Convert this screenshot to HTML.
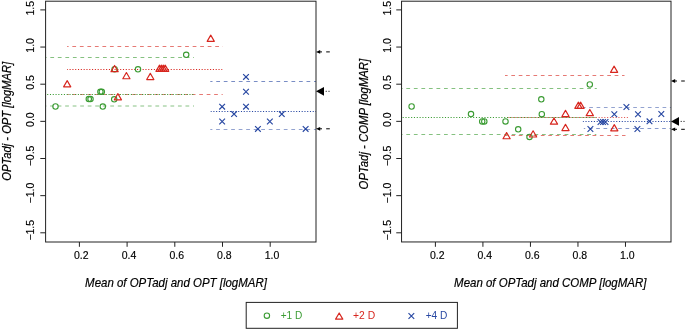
<!DOCTYPE html>
<html><head><meta charset="utf-8"><style>
html,body{margin:0;padding:0;background:#fff;width:685px;height:329px;overflow:hidden}
svg{display:block;will-change:transform}
.tk{font-family:"Liberation Sans",sans-serif;font-size:10.5px;fill:#000;stroke:#000;stroke-width:0.15px}
.ti{font-family:"Liberation Sans",sans-serif;font-size:12.4px;font-style:italic;fill:#000;stroke:#000;stroke-width:0.2px}
.lg{font-family:"Liberation Sans",sans-serif;font-size:10px}
</style></head><body>
<svg width="685" height="329" viewBox="0 0 685 329">
<rect width="685" height="329" fill="#fff"/>
<line x1="40.30" y1="9.90" x2="45.60" y2="9.90" stroke="#222" stroke-width="1"/>
<text x="0" y="0" transform="translate(34.00,8.20) rotate(-90)" text-anchor="middle" class="tk">1.5</text>
<line x1="40.30" y1="47.05" x2="45.60" y2="47.05" stroke="#222" stroke-width="1"/>
<text x="0" y="0" transform="translate(34.00,45.35) rotate(-90)" text-anchor="middle" class="tk">1.0</text>
<line x1="40.30" y1="84.20" x2="45.60" y2="84.20" stroke="#222" stroke-width="1"/>
<text x="0" y="0" transform="translate(34.00,82.50) rotate(-90)" text-anchor="middle" class="tk">0.5</text>
<line x1="40.30" y1="121.35" x2="45.60" y2="121.35" stroke="#222" stroke-width="1"/>
<text x="0" y="0" transform="translate(34.00,119.65) rotate(-90)" text-anchor="middle" class="tk">0.0</text>
<line x1="40.30" y1="158.50" x2="45.60" y2="158.50" stroke="#222" stroke-width="1"/>
<text x="0" y="0" transform="translate(34.00,155.95) rotate(-90)" text-anchor="middle" class="tk">−0.5</text>
<line x1="40.30" y1="195.65" x2="45.60" y2="195.65" stroke="#222" stroke-width="1"/>
<text x="0" y="0" transform="translate(34.00,193.10) rotate(-90)" text-anchor="middle" class="tk">−1.0</text>
<line x1="40.30" y1="232.80" x2="45.60" y2="232.80" stroke="#222" stroke-width="1"/>
<text x="0" y="0" transform="translate(34.00,230.25) rotate(-90)" text-anchor="middle" class="tk">−1.5</text>
<line x1="79.40" y1="242.00" x2="79.40" y2="246.80" stroke="#222" stroke-width="1"/>
<text x="81.30" y="258.9" text-anchor="middle" class="tk">0.2</text>
<line x1="127.10" y1="242.00" x2="127.10" y2="246.80" stroke="#222" stroke-width="1"/>
<text x="129.00" y="258.9" text-anchor="middle" class="tk">0.4</text>
<line x1="174.80" y1="242.00" x2="174.80" y2="246.80" stroke="#222" stroke-width="1"/>
<text x="176.70" y="258.9" text-anchor="middle" class="tk">0.6</text>
<line x1="222.50" y1="242.00" x2="222.50" y2="246.80" stroke="#222" stroke-width="1"/>
<text x="224.40" y="258.9" text-anchor="middle" class="tk">0.8</text>
<line x1="270.20" y1="242.00" x2="270.20" y2="246.80" stroke="#222" stroke-width="1"/>
<text x="272.10" y="258.9" text-anchor="middle" class="tk">1.0</text>
<line x1="396.25" y1="9.90" x2="401.55" y2="9.90" stroke="#222" stroke-width="1"/>
<text x="0" y="0" transform="translate(390.60,8.20) rotate(-90)" text-anchor="middle" class="tk">1.5</text>
<line x1="396.25" y1="47.05" x2="401.55" y2="47.05" stroke="#222" stroke-width="1"/>
<text x="0" y="0" transform="translate(390.60,45.35) rotate(-90)" text-anchor="middle" class="tk">1.0</text>
<line x1="396.25" y1="84.20" x2="401.55" y2="84.20" stroke="#222" stroke-width="1"/>
<text x="0" y="0" transform="translate(390.60,82.50) rotate(-90)" text-anchor="middle" class="tk">0.5</text>
<line x1="396.25" y1="121.35" x2="401.55" y2="121.35" stroke="#222" stroke-width="1"/>
<text x="0" y="0" transform="translate(390.60,119.65) rotate(-90)" text-anchor="middle" class="tk">0.0</text>
<line x1="396.25" y1="158.50" x2="401.55" y2="158.50" stroke="#222" stroke-width="1"/>
<text x="0" y="0" transform="translate(390.60,155.95) rotate(-90)" text-anchor="middle" class="tk">−0.5</text>
<line x1="396.25" y1="195.65" x2="401.55" y2="195.65" stroke="#222" stroke-width="1"/>
<text x="0" y="0" transform="translate(390.60,193.10) rotate(-90)" text-anchor="middle" class="tk">−1.0</text>
<line x1="396.25" y1="232.80" x2="401.55" y2="232.80" stroke="#222" stroke-width="1"/>
<text x="0" y="0" transform="translate(390.60,230.25) rotate(-90)" text-anchor="middle" class="tk">−1.5</text>
<line x1="435.40" y1="242.00" x2="435.40" y2="246.80" stroke="#222" stroke-width="1"/>
<text x="437.30" y="258.9" text-anchor="middle" class="tk">0.2</text>
<line x1="482.92" y1="242.00" x2="482.92" y2="246.80" stroke="#222" stroke-width="1"/>
<text x="484.82" y="258.9" text-anchor="middle" class="tk">0.4</text>
<line x1="530.44" y1="242.00" x2="530.44" y2="246.80" stroke="#222" stroke-width="1"/>
<text x="532.34" y="258.9" text-anchor="middle" class="tk">0.6</text>
<line x1="577.96" y1="242.00" x2="577.96" y2="246.80" stroke="#222" stroke-width="1"/>
<text x="579.86" y="258.9" text-anchor="middle" class="tk">0.8</text>
<line x1="625.48" y1="242.00" x2="625.48" y2="246.80" stroke="#222" stroke-width="1"/>
<text x="627.38" y="258.9" text-anchor="middle" class="tk">1.0</text>
<clipPath id="c1"><rect x="67.1" y="43.5" width="155.6" height="6"/></clipPath><line clip-path="url(#c1)" x1="49.780" y1="46.5" x2="230.7" y2="46.5" stroke="#d7261e" stroke-width="1" stroke-opacity="0.62" stroke-dasharray="3.760 3.760"/>
<clipPath id="c2"><rect x="67.1" y="66.5" width="155.6" height="6"/></clipPath><line clip-path="url(#c2)" x1="55.510" y1="69.5" x2="230.7" y2="69.5" stroke="#d7261e" stroke-width="1" stroke-opacity="1.0" stroke-dasharray="1.100 1.710"/>
<clipPath id="c3"><rect x="67.1" y="91.5" width="155.6" height="6"/></clipPath><line clip-path="url(#c3)" x1="50.237" y1="94.5" x2="230.7" y2="94.5" stroke="#d7261e" stroke-width="1" stroke-opacity="0.62" stroke-dasharray="3.725 3.725"/>
<clipPath id="c4"><rect x="45.6" y="54.5" width="148.4" height="6"/></clipPath><line clip-path="url(#c4)" x1="35.280" y1="57.5" x2="202.0" y2="57.5" stroke="#3a9b32" stroke-width="1" stroke-opacity="0.62" stroke-dasharray="3.760 3.760"/>
<clipPath id="c5"><rect x="45.6" y="91.5" width="148.4" height="6"/></clipPath><line clip-path="url(#c5)" x1="33.200" y1="94.5" x2="202.0" y2="94.5" stroke="#3a9b32" stroke-width="1" stroke-opacity="1.0" stroke-dasharray="1.100 1.690"/>
<clipPath id="c6"><rect x="45.6" y="103.0" width="148.4" height="6"/></clipPath><line clip-path="url(#c6)" x1="35.080" y1="106.0" x2="202.0" y2="106.0" stroke="#3a9b32" stroke-width="1" stroke-opacity="0.6" stroke-dasharray="3.760 3.760"/>
<clipPath id="c7"><rect x="210.3" y="78.5" width="105.69999999999999" height="6"/></clipPath><line clip-path="url(#c7)" x1="193.700" y1="81.5" x2="324.0" y2="81.5" stroke="#2747a2" stroke-width="1" stroke-opacity="0.62" stroke-dasharray="3.760 3.760"/>
<clipPath id="c8"><rect x="210.3" y="108.5" width="105.69999999999999" height="6"/></clipPath><line clip-path="url(#c8)" x1="199.540" y1="111.5" x2="324.0" y2="111.5" stroke="#2747a2" stroke-width="1" stroke-opacity="1.0" stroke-dasharray="1.100 1.660"/>
<clipPath id="c9"><rect x="210.3" y="126.5" width="105.69999999999999" height="6"/></clipPath><line clip-path="url(#c9)" x1="193.560" y1="129.5" x2="324.0" y2="129.5" stroke="#2747a2" stroke-width="1" stroke-opacity="0.5" stroke-dasharray="3.760 3.760"/>
<clipPath id="c10"><rect x="505.0" y="72.5" width="119.5" height="6"/></clipPath><line clip-path="url(#c10)" x1="489.195" y1="75.5" x2="632.5" y2="75.5" stroke="#d7261e" stroke-width="1" stroke-opacity="0.62" stroke-dasharray="3.690 3.690"/>
<clipPath id="c11"><rect x="508.0" y="114.5" width="120.0" height="6"/></clipPath><line clip-path="url(#c11)" x1="497.110" y1="117.5" x2="636.0" y2="117.5" stroke="#d7261e" stroke-width="1" stroke-opacity="0.75" stroke-dasharray="1.100 1.720"/>
<clipPath id="c12"><rect x="505.0" y="132.5" width="120.70000000000005" height="6"/></clipPath><line clip-path="url(#c12)" x1="489.195" y1="135.5" x2="633.7" y2="135.5" stroke="#d7261e" stroke-width="1" stroke-opacity="0.62" stroke-dasharray="3.690 3.690"/>
<clipPath id="c13"><rect x="401.55" y="85.5" width="195.24999999999994" height="6"/></clipPath><line clip-path="url(#c13)" x1="391.252" y1="88.5" x2="604.8" y2="88.5" stroke="#3a9b32" stroke-width="1" stroke-opacity="0.62" stroke-dasharray="3.768 3.768"/>
<clipPath id="c14"><rect x="401.55" y="114.5" width="194.84999999999997" height="6"/></clipPath><line clip-path="url(#c14)" x1="391.370" y1="117.5" x2="604.4" y2="117.5" stroke="#3a9b32" stroke-width="1" stroke-opacity="1.0" stroke-dasharray="1.100 1.720"/>
<clipPath id="c15"><rect x="401.55" y="131.5" width="194.74999999999994" height="6"/></clipPath><line clip-path="url(#c15)" x1="391.252" y1="134.5" x2="604.3" y2="134.5" stroke="#3a9b32" stroke-width="1" stroke-opacity="0.62" stroke-dasharray="3.768 3.768"/>
<clipPath id="c16"><rect x="583.8" y="104.5" width="87.20000000000005" height="6"/></clipPath><line clip-path="url(#c16)" x1="567.278" y1="107.5" x2="679.0" y2="107.5" stroke="#2747a2" stroke-width="1" stroke-opacity="0.5" stroke-dasharray="3.665 3.665"/>
<clipPath id="c17"><rect x="582.6" y="118.5" width="88.39999999999998" height="6"/></clipPath><line clip-path="url(#c17)" x1="571.550" y1="121.5" x2="679.0" y2="121.5" stroke="#2747a2" stroke-width="1" stroke-opacity="1.0" stroke-dasharray="1.100 1.690"/>
<clipPath id="c18"><rect x="583.8" y="125.5" width="87.20000000000005" height="6"/></clipPath><line clip-path="url(#c18)" x1="566.878" y1="128.5" x2="679.0" y2="128.5" stroke="#2747a2" stroke-width="1" stroke-opacity="0.55" stroke-dasharray="3.665 3.665"/>
<rect x="45.6" y="1.2" width="270.4" height="240.8" fill="none" stroke="#222" stroke-width="1"/>
<rect x="401.55" y="1.2" width="269.45" height="240.75" fill="none" stroke="#222" stroke-width="1"/>
<circle cx="55.50" cy="106.50" r="2.7" fill="none" stroke="#3a9b32" stroke-width="1.1"/>
<circle cx="88.80" cy="99.10" r="2.7" fill="none" stroke="#3a9b32" stroke-width="1.1"/>
<circle cx="90.50" cy="99.10" r="2.7" fill="none" stroke="#3a9b32" stroke-width="1.1"/>
<circle cx="100.40" cy="91.80" r="2.7" fill="none" stroke="#3a9b32" stroke-width="1.1"/>
<circle cx="101.80" cy="91.80" r="2.7" fill="none" stroke="#3a9b32" stroke-width="1.1"/>
<circle cx="102.80" cy="106.60" r="2.7" fill="none" stroke="#3a9b32" stroke-width="1.1"/>
<circle cx="114.20" cy="99.30" r="2.7" fill="none" stroke="#3a9b32" stroke-width="1.1"/>
<circle cx="114.60" cy="69.20" r="2.7" fill="none" stroke="#3a9b32" stroke-width="1.1"/>
<circle cx="138.00" cy="69.30" r="2.7" fill="none" stroke="#3a9b32" stroke-width="1.1"/>
<circle cx="186.20" cy="54.80" r="2.7" fill="none" stroke="#3a9b32" stroke-width="1.1"/>
<path d="M67.20 80.65L70.80 86.85L63.60 86.85Z" fill="none" stroke="#d7261e" stroke-width="1.15" stroke-linejoin="round"/>
<path d="M117.90 93.65L121.50 99.85L114.30 99.85Z" fill="none" stroke="#d7261e" stroke-width="1.15" stroke-linejoin="round"/>
<path d="M114.60 65.45L118.20 71.65L111.00 71.65Z" fill="none" stroke="#d7261e" stroke-width="1.15" stroke-linejoin="round"/>
<path d="M126.40 72.55L130.00 78.75L122.80 78.75Z" fill="none" stroke="#d7261e" stroke-width="1.15" stroke-linejoin="round"/>
<path d="M150.30 73.35L153.90 79.55L146.70 79.55Z" fill="none" stroke="#d7261e" stroke-width="1.15" stroke-linejoin="round"/>
<path d="M159.50 65.15L163.10 71.35L155.90 71.35Z" fill="none" stroke="#d7261e" stroke-width="1.15" stroke-linejoin="round"/>
<path d="M161.40 65.15L165.00 71.35L157.80 71.35Z" fill="none" stroke="#d7261e" stroke-width="1.15" stroke-linejoin="round"/>
<path d="M163.30 65.15L166.90 71.35L159.70 71.35Z" fill="none" stroke="#d7261e" stroke-width="1.15" stroke-linejoin="round"/>
<path d="M165.20 65.15L168.80 71.35L161.60 71.35Z" fill="none" stroke="#d7261e" stroke-width="1.15" stroke-linejoin="round"/>
<path d="M210.75 35.15L214.35 41.35L207.15 41.35Z" fill="none" stroke="#d7261e" stroke-width="1.15" stroke-linejoin="round"/>
<path d="M243.15 74.07L248.85 79.77M243.15 79.77L248.85 74.07" stroke="#2747a2" stroke-width="1.15" fill="none"/>
<path d="M243.15 88.93L248.85 94.63M243.15 94.63L248.85 88.93" stroke="#2747a2" stroke-width="1.15" fill="none"/>
<path d="M219.30 103.79L225.00 109.49M219.30 109.49L225.00 103.79" stroke="#2747a2" stroke-width="1.15" fill="none"/>
<path d="M243.15 103.79L248.85 109.49M243.15 109.49L248.85 103.79" stroke="#2747a2" stroke-width="1.15" fill="none"/>
<path d="M231.22 111.22L236.92 116.92M231.22 116.92L236.92 111.22" stroke="#2747a2" stroke-width="1.15" fill="none"/>
<path d="M219.30 118.65L225.00 124.35M219.30 124.35L225.00 118.65" stroke="#2747a2" stroke-width="1.15" fill="none"/>
<path d="M267.00 118.65L272.70 124.35M267.00 124.35L272.70 118.65" stroke="#2747a2" stroke-width="1.15" fill="none"/>
<path d="M278.92 111.22L284.62 116.92M278.92 116.92L284.62 111.22" stroke="#2747a2" stroke-width="1.15" fill="none"/>
<path d="M255.07 126.08L260.77 131.78M255.07 131.78L260.77 126.08" stroke="#2747a2" stroke-width="1.15" fill="none"/>
<path d="M302.77 126.08L308.48 131.78M302.77 131.78L308.48 126.08" stroke="#2747a2" stroke-width="1.15" fill="none"/>
<circle cx="411.60" cy="106.50" r="2.7" fill="none" stroke="#3a9b32" stroke-width="1.1"/>
<circle cx="471.00" cy="114.10" r="2.7" fill="none" stroke="#3a9b32" stroke-width="1.1"/>
<circle cx="482.20" cy="121.50" r="2.7" fill="none" stroke="#3a9b32" stroke-width="1.1"/>
<circle cx="484.30" cy="121.50" r="2.7" fill="none" stroke="#3a9b32" stroke-width="1.1"/>
<circle cx="505.50" cy="121.40" r="2.7" fill="none" stroke="#3a9b32" stroke-width="1.1"/>
<circle cx="518.20" cy="129.30" r="2.7" fill="none" stroke="#3a9b32" stroke-width="1.1"/>
<circle cx="529.50" cy="136.90" r="2.7" fill="none" stroke="#3a9b32" stroke-width="1.1"/>
<circle cx="541.30" cy="99.30" r="2.7" fill="none" stroke="#3a9b32" stroke-width="1.1"/>
<circle cx="541.80" cy="114.20" r="2.7" fill="none" stroke="#3a9b32" stroke-width="1.1"/>
<circle cx="589.80" cy="84.50" r="2.7" fill="none" stroke="#3a9b32" stroke-width="1.1"/>
<path d="M506.60 132.55L510.20 138.75L503.00 138.75Z" fill="none" stroke="#d7261e" stroke-width="1.15" stroke-linejoin="round"/>
<path d="M533.10 130.75L536.70 136.95L529.50 136.95Z" fill="none" stroke="#d7261e" stroke-width="1.15" stroke-linejoin="round"/>
<path d="M554.00 117.95L557.60 124.15L550.40 124.15Z" fill="none" stroke="#d7261e" stroke-width="1.15" stroke-linejoin="round"/>
<path d="M565.50 110.35L569.10 116.55L561.90 116.55Z" fill="none" stroke="#d7261e" stroke-width="1.15" stroke-linejoin="round"/>
<path d="M565.50 124.35L569.10 130.55L561.90 130.55Z" fill="none" stroke="#d7261e" stroke-width="1.15" stroke-linejoin="round"/>
<path d="M578.40 102.15L582.00 108.35L574.80 108.35Z" fill="none" stroke="#d7261e" stroke-width="1.15" stroke-linejoin="round"/>
<path d="M580.60 102.15L584.20 108.35L577.00 108.35Z" fill="none" stroke="#d7261e" stroke-width="1.15" stroke-linejoin="round"/>
<path d="M589.80 109.45L593.40 115.65L586.20 115.65Z" fill="none" stroke="#d7261e" stroke-width="1.15" stroke-linejoin="round"/>
<path d="M614.10 66.15L617.70 72.35L610.50 72.35Z" fill="none" stroke="#d7261e" stroke-width="1.15" stroke-linejoin="round"/>
<path d="M614.30 124.65L617.90 130.85L610.70 130.85Z" fill="none" stroke="#d7261e" stroke-width="1.15" stroke-linejoin="round"/>
<path d="M597.65 119.20L603.35 124.90M597.65 124.90L603.35 119.20" stroke="#2747a2" stroke-width="1.15" fill="none"/>
<path d="M600.15 119.20L605.85 124.90M600.15 124.90L605.85 119.20" stroke="#2747a2" stroke-width="1.15" fill="none"/>
<path d="M602.65 119.20L608.35 124.90M602.65 124.90L608.35 119.20" stroke="#2747a2" stroke-width="1.15" fill="none"/>
<path d="M587.55 126.20L593.25 131.90M587.55 131.90L593.25 126.20" stroke="#2747a2" stroke-width="1.15" fill="none"/>
<path d="M623.55 104.10L629.25 109.80M623.55 109.80L629.25 104.10" stroke="#2747a2" stroke-width="1.15" fill="none"/>
<path d="M611.45 111.40L617.15 117.10M611.45 117.10L617.15 111.40" stroke="#2747a2" stroke-width="1.15" fill="none"/>
<path d="M635.15 111.40L640.85 117.10M635.15 117.10L640.85 111.40" stroke="#2747a2" stroke-width="1.15" fill="none"/>
<path d="M658.45 111.20L664.15 116.90M658.45 116.90L664.15 111.20" stroke="#2747a2" stroke-width="1.15" fill="none"/>
<path d="M646.65 118.50L652.35 124.20M646.65 124.20L652.35 118.50" stroke="#2747a2" stroke-width="1.15" fill="none"/>
<path d="M634.55 126.10L640.25 131.80M634.55 131.80L640.25 126.10" stroke="#2747a2" stroke-width="1.15" fill="none"/>
<path d="M316.00 51.90L320.20 50.00L320.20 53.80Z" fill="#000"/>
<line x1="319.00" y1="51.90" x2="322.00" y2="51.90" stroke="#000" stroke-width="1"/>
<line x1="326.20" y1="51.90" x2="329.80" y2="51.90" stroke="#000" stroke-width="1"/>
<path d="M316.00 91.30L324.00 86.90L324.00 95.70Z" fill="#000"/>
<line x1="325.70" y1="91.30" x2="326.70" y2="91.30" stroke="#000" stroke-width="1"/>
<line x1="328.50" y1="91.30" x2="329.50" y2="91.30" stroke="#000" stroke-width="1"/>
<path d="M316.00 128.80L320.20 126.90L320.20 130.70Z" fill="#000"/>
<line x1="319.00" y1="128.80" x2="322.00" y2="128.80" stroke="#000" stroke-width="1"/>
<line x1="326.20" y1="128.80" x2="329.80" y2="128.80" stroke="#000" stroke-width="1"/>
<path d="M671.00 81.00L675.20 79.10L675.20 82.90Z" fill="#000"/>
<line x1="674.00" y1="81.00" x2="677.00" y2="81.00" stroke="#000" stroke-width="1"/>
<line x1="681.20" y1="81.00" x2="684.80" y2="81.00" stroke="#000" stroke-width="1"/>
<path d="M671.00 121.40L679.00 117.00L679.00 125.80Z" fill="#000"/>
<line x1="680.70" y1="121.40" x2="681.70" y2="121.40" stroke="#000" stroke-width="1"/>
<line x1="683.50" y1="121.40" x2="684.50" y2="121.40" stroke="#000" stroke-width="1"/>
<path d="M671.00 129.30L675.20 127.40L675.20 131.20Z" fill="#000"/>
<line x1="674.00" y1="129.30" x2="677.00" y2="129.30" stroke="#000" stroke-width="1"/>
<line x1="681.20" y1="129.30" x2="684.80" y2="129.30" stroke="#000" stroke-width="1"/>
<text transform="translate(10.8,121.25) rotate(-90)" text-anchor="middle" class="ti" textLength="118.9" lengthAdjust="spacingAndGlyphs">OPTadj - OPT [logMAR]</text>
<text transform="translate(368.0,124.1) rotate(-90)" text-anchor="middle" class="ti" textLength="130.6" lengthAdjust="spacingAndGlyphs">OPTadj - COMP [logMAR]</text>
<text x="85.1" y="286.6" class="ti" textLength="181.8" lengthAdjust="spacingAndGlyphs">Mean of OPTadj and OPT [logMAR]</text>
<text x="454.1" y="286.6" class="ti" textLength="192.3" lengthAdjust="spacingAndGlyphs">Mean of OPTadj and COMP [logMAR]</text>
<rect x="246.2" y="302.4" width="211.2" height="25.9" fill="none" stroke="#222" stroke-width="1"/>
<circle cx="266.90" cy="315.70" r="2.7" fill="none" stroke="#3a9b32" stroke-width="1.1"/>
<path d="M339.20 312.95L342.80 319.15L335.60 319.15Z" fill="none" stroke="#d7261e" stroke-width="1.15" stroke-linejoin="round"/>
<path d="M408.50 313.20L414.20 318.90M408.50 318.90L414.20 313.20" stroke="#2747a2" stroke-width="1.15" fill="none"/>
<text x="280.7" y="319.4" class="lg" fill="#3a9b32" textLength="21.6" lengthAdjust="spacingAndGlyphs">+1 D</text>
<text x="353.0" y="319.4" class="lg" fill="#d7261e" textLength="22.1" lengthAdjust="spacingAndGlyphs">+2 D</text>
<text x="425.7" y="319.4" class="lg" fill="#2747a2" textLength="21.7" lengthAdjust="spacingAndGlyphs">+4 D</text>
</svg>
</body></html>
